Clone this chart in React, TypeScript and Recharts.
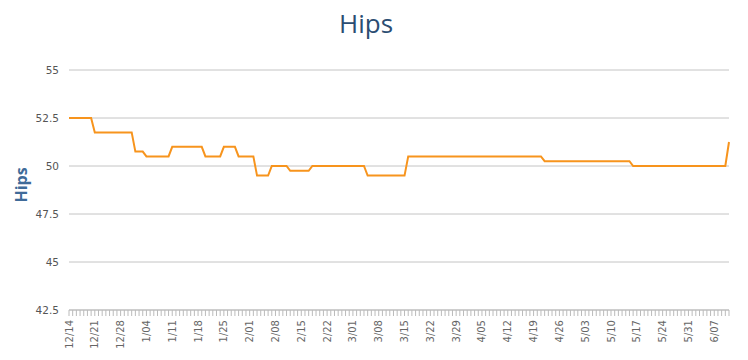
import React from 'react';
import { LineChart, Line, XAxis, YAxis, CartesianGrid } from 'recharts';

// one entry per day, 12/14 .. 6/11, laid out one week per row
const dates = [
  '12/14', '12/15', '12/16', '12/17', '12/18', '12/19', '12/20',
  '12/21', '12/22', '12/23', '12/24', '12/25', '12/26', '12/27',
  '12/28', '12/29', '12/30', '12/31', '1/01', '1/02', '1/03',
  '1/04', '1/05', '1/06', '1/07', '1/08', '1/09', '1/10',
  '1/11', '1/12', '1/13', '1/14', '1/15', '1/16', '1/17',
  '1/18', '1/19', '1/20', '1/21', '1/22', '1/23', '1/24',
  '1/25', '1/26', '1/27', '1/28', '1/29', '1/30', '1/31',
  '2/01', '2/02', '2/03', '2/04', '2/05', '2/06', '2/07',
  '2/08', '2/09', '2/10', '2/11', '2/12', '2/13', '2/14',
  '2/15', '2/16', '2/17', '2/18', '2/19', '2/20', '2/21',
  '2/22', '2/23', '2/24', '2/25', '2/26', '2/27', '2/28',
  '3/01', '3/02', '3/03', '3/04', '3/05', '3/06', '3/07',
  '3/08', '3/09', '3/10', '3/11', '3/12', '3/13', '3/14',
  '3/15', '3/16', '3/17', '3/18', '3/19', '3/20', '3/21',
  '3/22', '3/23', '3/24', '3/25', '3/26', '3/27', '3/28',
  '3/29', '3/30', '3/31', '4/01', '4/02', '4/03', '4/04',
  '4/05', '4/06', '4/07', '4/08', '4/09', '4/10', '4/11',
  '4/12', '4/13', '4/14', '4/15', '4/16', '4/17', '4/18',
  '4/19', '4/20', '4/21', '4/22', '4/23', '4/24', '4/25',
  '4/26', '4/27', '4/28', '4/29', '4/30', '5/01', '5/02',
  '5/03', '5/04', '5/05', '5/06', '5/07', '5/08', '5/09',
  '5/10', '5/11', '5/12', '5/13', '5/14', '5/15', '5/16',
  '5/17', '5/18', '5/19', '5/20', '5/21', '5/22', '5/23',
  '5/24', '5/25', '5/26', '5/27', '5/28', '5/29', '5/30',
  '5/31', '6/01', '6/02', '6/03', '6/04', '6/05', '6/06',
  '6/07', '6/08', '6/09', '6/10', '6/11',
];

const hips = [
  52.5, 52.5, 52.5, 52.5, 52.5, 52.5, 52.5,
  51.75, 51.75, 51.75, 51.75, 51.75, 51.75, 51.75,
  51.75, 51.75, 51.75, 51.75, 50.75, 50.75, 50.75,
  50.5, 50.5, 50.5, 50.5, 50.5, 50.5, 50.5,
  51, 51, 51, 51, 51, 51, 51,
  51, 51, 50.5, 50.5, 50.5, 50.5, 50.5,
  51, 51, 51, 51, 50.5, 50.5, 50.5,
  50.5, 50.5, 49.5, 49.5, 49.5, 49.5, 50,
  50, 50, 50, 50, 49.75, 49.75, 49.75,
  49.75, 49.75, 49.75, 50, 50, 50, 50,
  50, 50, 50, 50, 50, 50, 50,
  50, 50, 50, 50, 49.5, 49.5, 49.5,
  49.5, 49.5, 49.5, 49.5, 49.5, 49.5, 49.5,
  49.5, 50.5, 50.5, 50.5, 50.5, 50.5, 50.5,
  50.5, 50.5, 50.5, 50.5, 50.5, 50.5, 50.5,
  50.5, 50.5, 50.5, 50.5, 50.5, 50.5, 50.5,
  50.5, 50.5, 50.5, 50.5, 50.5, 50.5, 50.5,
  50.5, 50.5, 50.5, 50.5, 50.5, 50.5, 50.5,
  50.5, 50.5, 50.5, 50.25, 50.25, 50.25, 50.25,
  50.25, 50.25, 50.25, 50.25, 50.25, 50.25, 50.25,
  50.25, 50.25, 50.25, 50.25, 50.25, 50.25, 50.25,
  50.25, 50.25, 50.25, 50.25, 50.25, 50.25, 50,
  50, 50, 50, 50, 50, 50, 50,
  50, 50, 50, 50, 50, 50, 50,
  50, 50, 50, 50, 50, 50, 50,
  50, 50, 50, 50, 51.25,
];

const yTicks = [42.5, 45, 47.5, 50, 52.5, 55];

const data = dates.map((date, i) => ({ date, hips: hips[i] }));

// only every 7th day gets a label, the rest just keep their tick mark
function DateTick({ x, y, payload, index }: any) {
  if (index % 7 !== 0) return null;
  return (
    <text
      x={x}
      y={y + 2}
      transform={`rotate(-90, ${x}, ${y + 2})`}
      textAnchor="end"
      dominantBaseline="central"
      fontFamily="DejaVu Sans"
      fontSize={10}
      fill="#666"
    >
      {payload.value}
    </text>
  );
}

export default function App() {
  return (
    <div style={{ position: 'absolute', left: 0, top: 0, width: 748, height: 360, background: '#fff' }}>
      <div
        style={{
          position: 'absolute',
          left: 266,
          width: 200,
          top: 5,
          textAlign: 'center',
          fontFamily: '"Open Sans"',
          fontSize: 26,
          color: '#2b4d72',
        }}
      >
        Hips
      </div>
      <div
        style={{
          position: 'absolute',
          left: 21,
          top: 185,
          transform: 'translate(-50%, -50%) rotate(-90deg)',
          fontFamily: '"Open Sans"',
          fontWeight: 700,
          fontSize: 16,
          color: '#3f6b99',
        }}
      >
        Hips
      </div>
      <LineChart width={748} height={360} data={data} margin={{ top: 70, right: 19, bottom: 0, left: 0 }}>
        <CartesianGrid vertical={false} stroke="#c4c4c4" />
        <XAxis
          dataKey="date"
          interval={0}
          height={50}
          tickSize={6}
          tick={<DateTick />}
          tickLine={{ stroke: '#bbb' }}
          axisLine={{ stroke: '#bbb' }}
        />
        <YAxis
          width={69}
          domain={[42.5, 55]}
          ticks={yTicks}
          axisLine={false}
          tickLine={false}
          tickMargin={4}
          tick={{ fill: '#555', fontSize: 10.5, fontFamily: 'DejaVu Sans' }}
        />
        <Line
          type="linear"
          dataKey="hips"
          stroke="#f7941d"
          strokeWidth={2}
          dot={false}
          isAnimationActive={false}
        />
      </LineChart>
    </div>
  );
}
